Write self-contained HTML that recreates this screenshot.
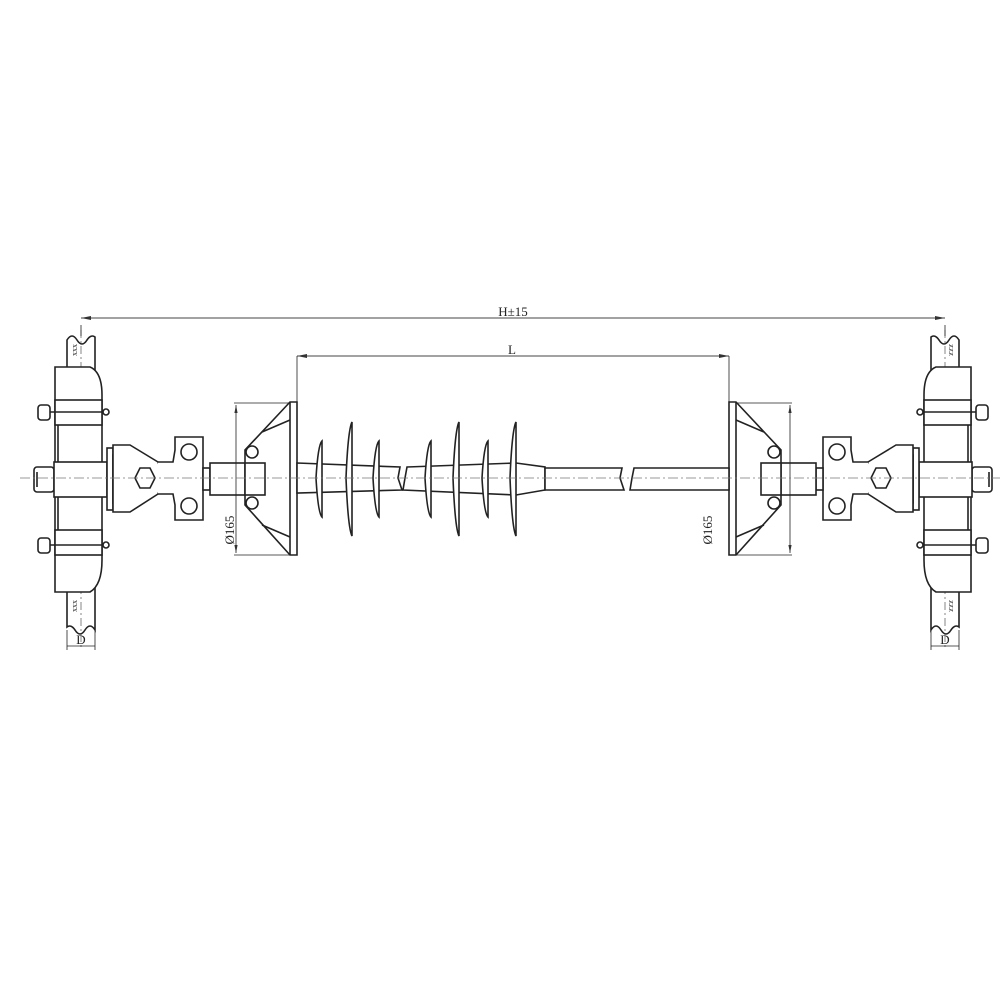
<!DOCTYPE html>
<html><head><meta charset="utf-8"><style>html,body{margin:0;padding:0;background:#fff}svg{display:block}</style></head>
<body>
<svg width="1000" height="1000" viewBox="0 0 1000 1000" xmlns="http://www.w3.org/2000/svg" font-family="Liberation Serif, serif">
<defs>
<marker id="ar" markerWidth="10" markerHeight="6" refX="10" refY="3" orient="auto-start-reverse"><path d="M0,1 L10,3 L0,5 z" fill="#333"/></marker>
<g id="end" fill="#fff" stroke="#222" stroke-width="1.6">
  <!-- pole -->
  <path d="M67,340 q5,-8 10,0 q5,8 10,0 q4,-6 8,-3 L95,630 q-5,-8 -10,0 q-5,8 -10,0 q-4,-6 -8,-3 z"/>
  <line x1="81" y1="330" x2="81" y2="650" stroke="#666" stroke-width="0.8" stroke-dasharray="8,3,2,3"/>
  <text x="77" y="356" font-size="8" fill="#222" stroke="none" transform="rotate(-90 77 356)">xxx</text>
  <text x="77" y="612" font-size="8" fill="#222" stroke="none" transform="rotate(-90 77 612)">xxx</text>
  <!-- clamp -->
  <path d="M55,367 L90,367 Q102,372 102,395 L102,560 Q102,585 90,592 L55,592 Z"/>
  <rect x="55" y="400" width="47" height="25"/>
  <rect x="55" y="530" width="47" height="25"/>
  <line x1="58" y1="425" x2="58" y2="530"/>
  <!-- bolts -->
  <rect x="38" y="405" width="12" height="15" rx="3"/>
  <rect x="38" y="538" width="12" height="15" rx="3"/>
  <line x1="50" y1="412" x2="108" y2="412"/><line x1="50" y1="545" x2="108" y2="545"/>
  <circle cx="106" cy="412" r="3"/><circle cx="106" cy="545" r="3"/>
  <rect x="34" y="467" width="20" height="25" rx="3"/>
  <line x1="37" y1="472" x2="37" y2="487"/>
  <rect x="54" y="462" width="53" height="35"/>
  <!-- link -->
  <rect x="107" y="448" width="6" height="62"/>
  <rect x="113" y="455" width="6" height="48"/>
  <rect x="119" y="470" width="10" height="18"/>
  <path d="M113,445 L130,445 L158,462 Q165,478 158,494 L130,512 L113,512 Z"/>
  <polygon points="140,468 150,468 155,478 150,488 140,488 135,478"/>
  <path d="M158,462 L173,462 L175,450 L175,437 L203,437 L203,520 L175,520 L175,505 L173,494 L158,494"/>
  <circle cx="189" cy="452" r="8"/><circle cx="189" cy="506" r="8"/>
  <rect x="203" y="468" width="7" height="22"/>
  <rect x="210" y="463" width="36" height="32"/>
  <!-- flange -->
  <path d="M297,402 L290,402 L245,450 L245,505 L290,555 L297,555 Z"/>
  <line x1="262" y1="432" x2="290" y2="420"/><line x1="262" y1="525" x2="290" y2="537"/>
  <line x1="290" y1="402" x2="290" y2="555"/>
  <rect x="245" y="463" width="20" height="32"/>
  <circle cx="252" cy="452" r="6"/><circle cx="252" cy="503" r="6"/>
  <!-- dims -->
  <line x1="234" y1="403" x2="290" y2="403" stroke-width="0.8"/>
  <line x1="234" y1="555" x2="290" y2="555" stroke-width="0.8"/>
  <line x1="236" y1="405" x2="236" y2="553" stroke-width="0.8" marker-start="url(#ar)" marker-end="url(#ar)"/>
  <line x1="67" y1="630" x2="67" y2="650" stroke-width="0.8"/><line x1="95" y1="630" x2="95" y2="650" stroke-width="0.8"/>
  <line x1="67" y1="646" x2="95" y2="646" stroke-width="0.8"/>
  <line x1="81" y1="325" x2="81" y2="336" stroke-width="0.8"/>
  <line x1="297" y1="356" x2="297" y2="402" stroke-width="0.8"/>
</g>
</defs>
<line x1="81" y1="318" x2="945" y2="318" stroke="#444" stroke-width="1" marker-start="url(#ar)" marker-end="url(#ar)"/>
<text x="513" y="316" font-size="13" text-anchor="middle" fill="#222">H±15</text>
<line x1="297" y1="356" x2="729" y2="356" stroke="#444" stroke-width="1" marker-start="url(#ar)" marker-end="url(#ar)"/>
<text x="512" y="354" font-size="13" text-anchor="middle" fill="#222">L</text>
<use href="#end"/>
<use href="#end" transform="translate(1026,0) scale(-1,1)"/>
<text x="234" y="530" font-size="13" fill="#222" transform="rotate(-90 234 530)" text-anchor="middle">Ø165</text>
<text x="712" y="530" font-size="13" fill="#222" transform="rotate(-90 712 530)" text-anchor="middle">Ø165</text>
<text x="81" y="644" font-size="13" fill="#222" text-anchor="middle">D</text>
<text x="945" y="644" font-size="13" fill="#222" text-anchor="middle">D</text>
<g fill="#fff" stroke="#222" stroke-width="1.6">
  <path d="M297,463 L400,467 L398,478 L402,490 L297,493 Z"/>
  <path d="M407,467 L516,463 L545,467 L545,490 L516,495 L403,490 L405,478 Z"/>
  <path d="M545,468 L622,468 L620,478 L624,490 L545,490 Z"/>
  <path d="M634,468 L729,468 L729,490 L630,490 L632,478 Z"/>
  <path d="M316,478 Q318,445 322,441 L322,517 Q318,513 316,478 Z"/>
  <path d="M346,478 Q348,430 352,422 L352,536 Q348,528 346,478 Z"/>
  <path d="M373,478 Q375,445 379,441 L379,517 Q375,513 373,478 Z"/>
  <path d="M425,478 Q427,445 431,441 L431,517 Q427,513 425,478 Z"/>
  <path d="M453,478 Q455,430 459,422 L459,536 Q455,528 453,478 Z"/>
  <path d="M482,478 Q484,445 488,441 L488,517 Q484,513 482,478 Z"/>
  <path d="M510,478 Q512,430 516,422 L516,536 Q512,528 510,478 Z"/>
</g>
<line x1="20" y1="478" x2="1000" y2="478" stroke="#777" stroke-width="0.8" stroke-dasharray="10,3,2,3"/>
</svg>
</body></html>
